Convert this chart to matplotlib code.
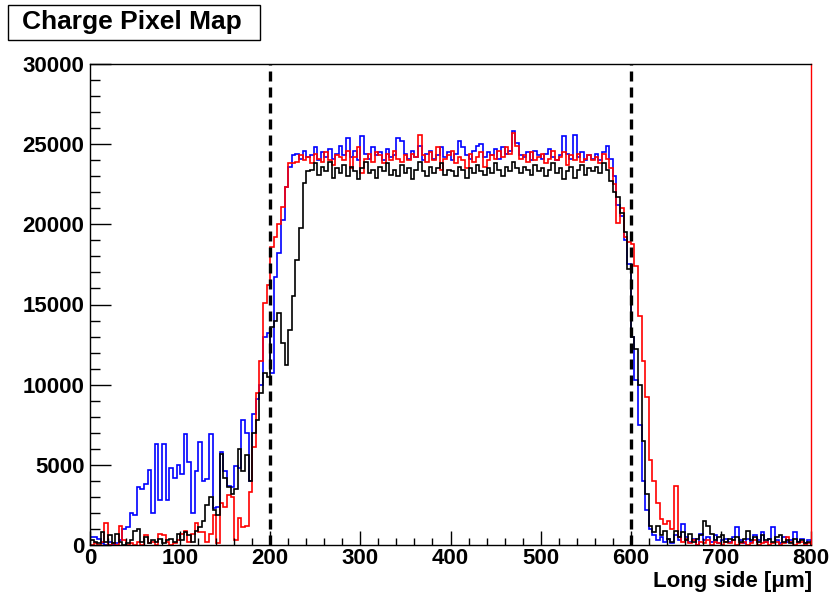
import numpy as np
import matplotlib
matplotlib.use('Agg')
import matplotlib.pyplot as plt
from matplotlib.patches import Rectangle
from matplotlib.ticker import MultipleLocator

plt.rcParams['font.family'] = ['Liberation Sans', 'DejaVu Sans']

# bin edges: 200 bins of 4 um between 0 and 800
edges = np.linspace(0, 800, 201)

# charge per bin, in units of 1000
blue_k = [
    0.5, 0.5, 0.4, 0.1, 0.0, 0.2, 0.0, 0.1, 0.3, 1.0,
    1.1, 2.0, 1.9, 3.6, 3.5, 3.8, 4.7, 2.0, 6.3, 2.8,
    6.3, 2.8, 4.8, 4.2, 5.0, 4.4, 6.9, 5.2, 2.0, 4.6,
    6.4, 4.0, 4.1, 6.9, 2.3, 2.4, 5.8, 4.6, 3.7, 3.6,
    4.9, 4.8, 7.8, 7.0, 4.0, 8.2, 9.1, 10.0, 13.0, 13.2,
    10.7, 16.7, 18.2, 20.3, 22.3, 23.6, 24.3,
    24.4, 24.1, 24.6, 24.2, 24.3, 24.8, 24.0, 24.5, 24.2, 24.7, 24.1, 24.4, 24.9,
    24.3, 25.4, 24.2, 24.6, 24.0, 25.5, 24.4, 24.1, 24.8, 24.3,
    24.5, 24.0, 24.7, 24.2, 24.3, 25.4, 25.2, 24.4, 24.1, 24.6,
    24.2, 24.9, 24.0, 24.4, 24.6, 24.1, 24.3, 24.8, 24.2, 24.5,
    24.0, 24.4, 25.2, 24.8, 24.3, 24.1, 24.6, 24.9, 25.0, 24.2,
    24.5, 24.3, 24.7, 24.1, 24.8, 24.4, 24.6, 25.8, 25.1, 24.3,
    24.2, 24.5, 24.0, 24.6, 24.3, 24.1, 24.4, 24.7, 24.2, 24.0,
    24.3, 25.5, 24.4, 24.1, 25.6, 24.2, 24.5, 24.0, 24.3, 24.1,
    24.4, 24.0, 24.5, 24.9, 24.1, 23.0,
    21.2, 20.5, 19.0, 17.5, 13.0, 10.3, 7.5, 4.0, 2.2, 1.0,
    0.6, 0.3, 0.5, 0.2, 0.4, 0.1, 0.6, 0.3, 1.3, 0.5,
    0.2, 0.4, 0.0, 0.7, 0.3, 0.5, 0.2, 0.6, 0.1, 0.3,
    0.4, 0.2, 0.5, 1.1, 0.3, 0.1, 0.4, 0.2, 0.6, 0.3,
    0.8, 0.2, 0.4, 1.1, 0.3, 0.1, 0.5, 0.2, 0.3, 0.8,
    0.2, 0.4, 0.1, 0.3,
]

red_k = [
    0.0, 0.1, 0.0, 0.2, 1.4, 0.0, 0.1, 0.0, 1.2, 0.3,
    0.0, 0.1, 0.0, 0.2, 0.0, 0.6, 0.1, 0.2, 0.0, 0.7,
    0.6, 0.2, 0.0, 0.1, 0.3, 0.7, 0.9, 0.2, 0.7, 1.4,
    0.8, 0.8, 0.2, 0.7, 1.9, 0.1, 2.6, 2.4, 3.1, 3.0,
    0.3, 1.7, 1.1, 1.2, 3.3, 6.1, 9.5, 11.5, 15.1, 16.2,
    18.6, 19.2, 20.0, 21.1, 22.3, 23.8, 23.8,
    23.9, 24.3, 24.0, 24.2, 23.8, 24.4, 24.1, 23.9, 24.5, 24.0, 23.7, 24.3, 24.2,
    24.0, 24.6, 23.5, 24.2, 24.8, 23.2, 24.1, 24.4, 23.9, 24.5,
    24.3, 23.8, 24.4, 24.0, 24.6, 24.1, 23.9, 24.3, 24.0, 24.4,
    24.2, 25.6, 24.3, 23.9, 24.5, 24.0, 24.8, 23.4, 24.1, 24.3,
    24.6, 23.8, 24.2, 24.0, 23.5, 24.4, 23.9, 24.2, 24.5, 23.6,
    24.0, 24.3, 24.1, 24.6, 24.2, 24.8, 24.4, 25.7, 24.9, 24.1,
    24.3, 23.9, 24.5, 24.0, 24.2, 24.4, 23.8, 24.1, 24.6, 24.0,
    24.2, 24.5, 23.7, 24.3, 24.0, 24.4, 23.9, 24.1, 24.3, 24.0,
    24.2, 23.8, 24.4, 24.1, 23.5, 22.5,
    20.1, 21.0, 19.2, 18.9, 18.8, 17.4, 14.3, 11.5, 9.2, 5.3,
    4.0, 2.6, 1.6, 1.3, 1.5, 1.0, 3.7,
    0.5, 0.2, 0.4, 0.1, 0.3, 0.0, 0.2, 0.1, 0.3, 0.0,
    0.2, 0.1, 0.0, 0.2, 0.1, 0.3, 0.0, 0.1, 0.2, 0.0,
    0.1, 0.3, 0.0, 0.1, 0.2, 0.0, 0.1, 0.2, 0.0, 0.1,
    0.5, 0.2, 0.0, 0.1, 0.2, 0.0, 0.1,
]

black_k = [
    0.3, 0.2, 0.1, 0.8, 0.2, 0.6, 0.1, 0.7, 0.2, 0.0,
    0.1, 0.3, 0.9, 1.0, 0.2, 0.5, 0.1, 0.3, 0.2, 0.4,
    0.1, 0.3, 0.4, 0.2, 0.7, 0.3, 0.8, 0.6, 0.2, 0.9,
    1.1, 1.5, 2.5, 3.0, 2.2, 1.9, 5.7, 4.2, 3.6, 3.2,
    3.5, 6.0, 4.6, 5.6, 4.0, 7.0, 7.8, 9.5, 10.7, 10.5,
    13.6, 14.0, 14.5, 12.6, 11.2, 13.4, 15.5, 17.8, 19.8, 22.6, 23.3,
    23.4, 23.8, 23.1, 23.6, 23.3, 23.9, 22.9, 23.5, 23.2,
    23.7, 23.0, 23.6, 23.3, 22.8, 23.5, 23.9, 23.2, 23.4, 22.9,
    23.6, 23.3, 23.8, 23.1, 23.4, 23.0, 23.7, 23.2, 23.5, 22.8,
    23.4, 23.9, 23.3, 23.0, 23.6, 23.2, 23.5, 23.8, 23.1, 23.4,
    23.3, 23.0, 23.6, 23.4, 22.9, 23.5, 23.2, 23.7, 23.3, 23.1,
    23.5, 23.2, 23.8, 23.4, 23.0, 23.6, 23.3, 23.9, 23.5, 23.2,
    23.6, 23.4, 23.1, 23.7, 23.3, 23.5, 23.0, 23.4, 23.8, 23.2,
    23.5, 22.8, 23.3, 23.6, 22.9, 23.4, 23.7, 23.1, 23.5, 23.3,
    23.6, 23.2, 23.8, 23.4, 22.7, 22.0,
    21.7, 20.7, 19.5, 17.2, 13.0, 12.2, 10.0, 6.5, 3.2, 1.2, 0.8,
    1.2, 0.6, 0.9, 0.4, 0.2, 0.9, 0.5, 0.8, 0.3, 0.7,
    0.2, 0.4, 0.6, 1.5, 1.2, 0.7, 0.3, 0.5, 0.6, 0.2,
    0.4, 0.3, 0.5, 0.2, 0.4, 0.9, 0.3, 0.5, 0.2, 0.6,
    0.3, 0.4, 0.2, 0.5, 0.6, 0.2, 0.3, 0.1, 0.4, 0.2,
    0.3, 0.1, 0.2,
]

edge_lines = [200, 600]

blue = np.array(blue_k) * 1000
red = np.array(red_k) * 1000
black = np.array(black_k) * 1000

fig = plt.figure(figsize=(8.31, 5.92), dpi=100)
ax = fig.add_axes([90/831, 1 - 545/592, 721/831, 481/592])

ax.stairs(blue, edges, color=(0, 0, 1), lw=1.2)
ax.stairs(red, edges, color=(1, 0, 0), lw=1.2)
ax.stairs(black, edges, color='k', lw=1.2)

for xv in edge_lines:
    ax.axvline(xv, color='k', lw=2.4, ls=(0, (3.0, 1.8)))

ax.set_xlim(0, 800)
ax.set_ylim(0, 30000)

ax.xaxis.set_major_locator(MultipleLocator(100))
ax.xaxis.set_minor_locator(MultipleLocator(20))
ax.yaxis.set_major_locator(MultipleLocator(5000))
ax.yaxis.set_minor_locator(MultipleLocator(1000))

ax.tick_params(axis='x', which='major', direction='in', length=10, width=1, pad=2, labelsize=16)
ax.tick_params(axis='x', which='minor', direction='in', length=5, width=1)
ax.tick_params(axis='y', which='major', direction='in', length=15, width=1, pad=4, labelsize=16)
ax.tick_params(axis='y', which='minor', direction='in', length=7.5, width=1)
for lab in ax.get_xticklabels() + ax.get_yticklabels():
    lab.set_fontweight('bold')

for sp in ax.spines.values():
    sp.set_linewidth(1)
ax.spines['right'].set_color((1, 0, 0))

# title box
fig.patches.append(Rectangle((8/831, 1 - 40/592), 252/831, 35/592,
                             transform=fig.transFigure, fill=True,
                             facecolor='white', edgecolor='k', lw=1))
fig.text(22/831, 1 - 22/592, 'Charge Pixel Map', ha='left', va='center',
         fontsize=19, fontweight='bold')

fig.text(812/831, 1 - 581/592, 'Long side [μm]', ha='right', va='center',
         fontsize=16, fontweight='bold')

fig.savefig('out.png', dpi=100)
